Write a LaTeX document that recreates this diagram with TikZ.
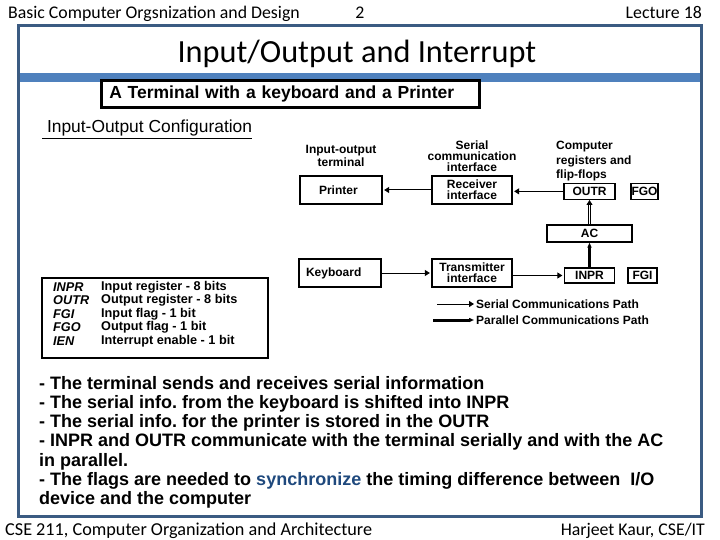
\documentclass[tikz,border=0pt]{standalone}
\usepackage{fontspec}
\setmainfont{Liberation Sans}
\newfontfamily\calibri{Carlito}
\usepackage{xcolor}
\usepackage{tikz}
\usetikzlibrary{positioning,arrows.meta}
\definecolor{frameblue}{HTML}{3B5B82}
\definecolor{bandblue}{HTML}{4F81BD}
\definecolor{syncblue}{HTML}{1F497D}

\tikzset{
  slide/.style={font=\calibri\fontsize{17.8}{18}\selectfont,inner sep=0pt},
  blk/.style={draw,line width=1.3pt,inner sep=0pt,align=center,font=\bfseries\fontsize{12}{10.8}\selectfont},
  lbl/.style={inner sep=0pt,align=center,font=\bfseries\fontsize{12}{10.8}\selectfont},
  reg/.style={inner sep=0pt,anchor=west,font=\bfseries\fontsize{12.7}{13}\selectfont},
  ser/.style={line width=1pt,-{Triangle[length=5pt,width=6pt]},shorten >=1.5pt},
  par/.style={line width=3pt,-{Triangle[length=5pt,width=4pt]}},
  dbl/.style={line width=0.8pt,double=white,double distance=1.8pt,-{Triangle[length=5pt,width=6pt]}},
}

\begin{document}
\begin{tikzpicture}[x=1pt,y=-1pt]
    \useasboundingbox (0,0) rectangle (720,540);
    % slide frame
    \draw[frameblue,line width=3pt] (18.5,25.5) rectangle (701.5,516);
    \fill[bandblue] (20,73) rectangle (700,82);
    \node[slide,anchor=base west] (course) at (8,19) {Basic Computer Orgsnization and Design};
    \node[slide,anchor=base] (page) at (360,19) {2};
    \node[slide,anchor=base east] (lecture) at (702,19) {Lecture 18};
    \node[anchor=base,inner sep=0pt,font=\calibri\fontsize{32.3}{33}\selectfont] (title) at (357,63) {Input/Output and Interrupt};
    \node[slide,anchor=base west,font=\calibri\fontsize{18.2}{18}\selectfont] (course2) at (5,535) {CSE 211, Computer Organization and Architecture};
    \node[slide,anchor=base east] (author) at (705,535) {Harjeet Kaur, CSE/IT};

    \node[draw,line width=2.5pt,anchor=west,inner xsep=8pt,inner ysep=0pt,minimum height=27pt,text width=362pt,
          font=\bfseries\fontsize{17.5}{18}\selectfont] (subtitle) at (100,94) {A Terminal with a keyboard and a Printer};
    \node[anchor=base west,inner sep=0pt,font=\fontsize{17.4}{18}\selectfont] (config) at (42,133) {\underline{ Input-Output Configuration}};

    % terminal, interfaces, registers
    \node[lbl] (termlbl) at (341,156) {Input-output\\terminal};
    \node[lbl] (sciflbl) at (472,156) {Serial\\communication\\interface};
    \node[lbl,align=left,anchor=north west,font=\bfseries\fontsize{12}{14.5}\selectfont] (reglbl) at (556,141) {Computer\\registers and\\flip-flops};
    \node[blk,minimum width=82pt,minimum height=28pt,text width=64pt,align=left] (printer) at (341,190) {\hspace*{10pt}Printer};
    \node[blk,minimum width=80pt,minimum height=28pt] (recv) at (472,190) {Receiver\\interface};
    \node[blk,minimum width=51pt,minimum height=16pt,text depth=0pt,anchor=south] (outr) at (589.5,200) {OUTR};
    \node[blk,minimum width=27pt,minimum height=16pt,text depth=0pt,anchor=south] (fgo) at (644.5,200) {FGO};
    \node[blk,minimum width=85pt,minimum height=17pt] (ac) at (589.5,233.5) {AC};
    \node[blk,minimum width=82pt,minimum height=28pt,text width=68pt,align=left] (kbd) at (340,273) {Keyboard};
    \node[blk,minimum width=80pt,minimum height=28pt] (xmit) at (472,273) {Transmitter\\interface};
    \node[blk,minimum width=50pt,minimum height=15pt] (inpr) at (589.5,275.5) {INPR};
    \node[blk,minimum width=29pt,minimum height=15pt] (fgi) at (642.5,275.5) {FGI};

    \draw[ser] (recv.west) -- (printer.east);
    \draw[ser] (outr.west) -- (outr.west -| recv.east);
    \draw[dbl] (ac.north) -- (outr.south);
    \draw[par] (inpr.north) -- (ac.south);
    \draw[ser] (kbd.east) -- (xmit.west);
    \draw[ser] (xmit.east |- inpr.west) -- (inpr.west);

    % legend of paths
    \coordinate (serA) at (437,304);
    \coordinate (serB) at (474,304);
    \coordinate (parA) at (433,320);
    \coordinate (parB) at (474,320);
    \draw[ser,shorten >=0pt] (serA) -- (serB);
    \draw[par] (parA) -- (parB);
    \node[lbl,anchor=west] (serlbl) at (476,304) {Serial Communications Path};
    \node[lbl,anchor=west] (parlbl) at (476,320) {Parallel Communications Path};

    % register table
    \draw[line width=2.5pt] (42,278) rectangle (268,358);
    \foreach \nm/\desc [count=\i] in {INPR/Input register - 8 bits,OUTR/Output register - 8 bits,
        FGI/Input flag - 1 bit,FGO/Output flag - 1 bit,IEN/Interrupt enable - 1 bit}
    {
      \node[reg] (key\i) at (53,273.5+13.5*\i) {\itshape\nm};
      \node[reg] (desc\i) at (101,273.5+13.5*\i) {\desc};
    }

    \node[anchor=north west,inner sep=0pt,align=left,font=\bfseries\fontsize{18}{19.2}\selectfont] (notes) at (39,376)
      {- The terminal sends and receives serial information\\
       - The serial info.\ from the keyboard is shifted into INPR\\
       - The serial info.\ for the printer is stored in the OUTR\\
       - INPR and OUTR communicate with the terminal serially and with the AC\\
       in parallel.\\
       - The flags are needed to \textcolor{syncblue}{synchronize} the timing difference between \ I/O\\
       device and the computer};
\end{tikzpicture}
\end{document}
